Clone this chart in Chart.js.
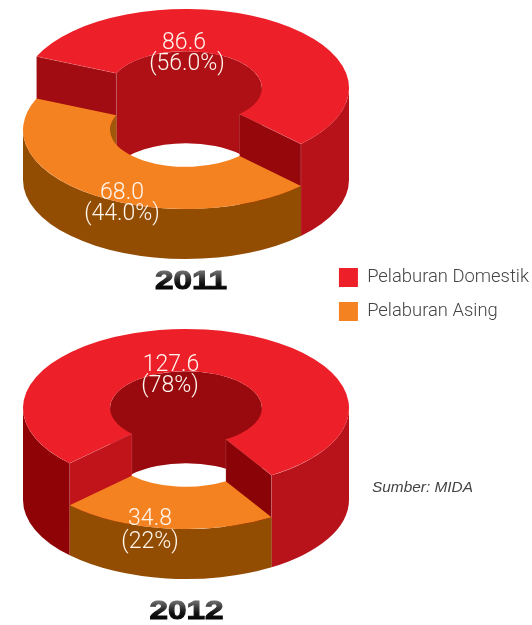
<!DOCTYPE html>
<html>
<head>
<meta charset="utf-8">
<script src="https://cdn.jsdelivr.net/npm/chart.js@4"></script>
<style>
html,body{margin:0;padding:0;background:#fff}
body{width:532px;height:625px;position:relative;overflow:hidden}
canvas{position:absolute;left:0;top:0}
#src{position:absolute;left:372px;top:478px;font:italic 15.4px "Liberation Sans",sans-serif;color:#444;white-space:nowrap}
</style>
</head>
<body>
<canvas id="c2011" width="532" height="625"></canvas>
<canvas id="c2012" width="532" height="625"></canvas>
<div id="src">Sumber: MIDA</div>
<script>
const categories = ['Pelaburan Domestik', 'Pelaburan Asing'];
const values2011 = [86.6, 68.0];
const values2012 = [127.6, 34.8];
const percent2011 = ['(56.0%)', '(44.0%)'];
const percent2012 = ['(78%)', '(22%)'];
const faceColors = ['#ED1F28', '#F58220'];

const LABEL_FONT = '300 23px Roboto, "Liberation Sans", sans-serif';

const views = {
  c2011: {
    year: '2011', values: values2011, percents: percent2011,
    rotation: 293.5, cx: 186, baseY: 180, rx: 163, ry: 79, heights: [92, 50],
    innerWall: ['#AE1015', '#A0590A'], startFace: ['#A00C12', '#934D03'], endFace: ['#95070B', '#934D03'],
    wallLeft: ['#B7121A', '#934D03'], wallRight: ['#B7121A', '#934D03'],
    labelPos: [[[184, 43], [187, 64]], [[122, 193], [122, 214]]],
    titlePos: [191, 282], legend: true
  },
  c2012: {
    year: '2012', values: values2012, percents: percent2012,
    rotation: 225.5, cx: 186, baseY: 500, rx: 163, ry: 79, heights: [92, 50],
    innerWall: ['#990A0E', '#934D03'], startFace: ['#C0131A', '#934D03'], endFace: ['#8A0306', '#934D03'],
    wallLeft: ['#8F0205', '#934D03'], wallRight: ['#B8131A', '#934D03'],
    labelPos: [[[171, 365], [170, 386]], [[150, 519], [150, 542]]],
    titlePos: [186.5, 612], legend: false
  }
};

function overlaps(a, b, p, q, cb) {
  const T = Math.PI * 2;
  for (let k = -2; k <= 3; k++) {
    const lo = Math.max(a, p + T * k), hi = Math.min(b, q + T * k);
    if (hi > lo) cb(lo, hi);
  }
}

const solid = {
  id: 'solid',
  beforeDatasetDraw(chart, args) {
    const v = chart.$view, ctx = chart.ctx;
    const arcs = chart.getDatasetMeta(args.index).data;
    const order = arcs.map((_, i) => i).sort((i, j) => v.heights[j] - v.heights[i]);
    order.forEach(i => {
      const arc = arcs[i];
      const a = arc.startAngle, b = arc.endAngle, R = arc.outerRadius, r = arc.innerRadius;
      const sx = v.rx / R, sy = v.ry / R;
      const topY = v.baseY - v.heights[i], botY = v.baseY;
      const px = (rad, t) => v.cx + rad * sx * Math.cos(t);
      const py = (rad, t, y) => y + rad * sy * Math.sin(t);
      const band = (rad, lo, hi, color) => {
        ctx.beginPath();
        ctx.ellipse(v.cx, topY, rad * sx, rad * sy, 0, lo, hi);
        ctx.ellipse(v.cx, botY, rad * sx, rad * sy, 0, hi, lo, true);
        ctx.closePath();
        ctx.fillStyle = color; ctx.fill();
      };
      const face = (t, color) => {
        ctx.beginPath();
        ctx.moveTo(px(r, t), py(r, t, topY));
        ctx.lineTo(px(R, t), py(R, t, topY));
        ctx.lineTo(px(R, t), py(R, t, botY));
        ctx.lineTo(px(r, t), py(r, t, botY));
        ctx.closePath();
        ctx.fillStyle = color; ctx.fill();
      };
      const edges = t => {
        ctx.beginPath();
        ctx.moveTo(px(r, t), py(r, t, botY));
        ctx.lineTo(px(r, t), py(r, t, topY));
        ctx.lineTo(px(R, t), py(R, t, topY));
        ctx.lineTo(px(R, t), py(R, t, botY));
        ctx.lineWidth = 0.6;
        ctx.strokeStyle = 'rgba(255,255,255,0.22)';
        ctx.stroke();
      };
      overlaps(a, b, Math.PI, Math.PI * 2, (lo, hi) => band(r, lo, hi, v.innerWall[i]));
      if (Math.cos(a) < 0) face(a, v.startFace[i]);
      if (Math.cos(b) > 0) face(b, v.endFace[i]);
      overlaps(a, b, 0, Math.PI, (lo, hi) => {
        const left = Math.cos((lo + hi) / 2) < 0;
        band(R, lo, hi, left ? v.wallLeft[i] : v.wallRight[i]);
      });
      ctx.save();
      ctx.translate(v.cx, topY);
      ctx.scale(sx, sy);
      ctx.translate(-arc.x, -arc.y);
      arc.draw(ctx, chart.chartArea);
      ctx.restore();
      if (Math.cos(a) < 0) edges(a);
      if (Math.cos(b) > 0) edges(b);
    });
    return false;
  },
  afterDatasetsDraw(chart) {
    const v = chart.$view, ctx = chart.ctx;
    ctx.save();
    ctx.textAlign = 'center';
    ctx.textBaseline = 'middle';
    ctx.fillStyle = '#FFF6EE';
    ctx.font = LABEL_FONT;
    v.values.forEach((val, i) => {
      ctx.fillText(val.toFixed(1), v.labelPos[i][0][0], v.labelPos[i][0][1]);
      ctx.fillText(v.percents[i], v.labelPos[i][1][0], v.labelPos[i][1][1]);
    });
    const [tx, ty] = v.titlePos;
    ctx.translate(tx, ty);
    ctx.scale(1.28, 1);
    const g = ctx.createLinearGradient(0, -10, 0, 10);
    g.addColorStop(0, '#666');
    g.addColorStop(0.55, '#111');
    g.addColorStop(1, '#000');
    ctx.font = 'bold 26px "Liberation Sans", sans-serif';
    ctx.fillStyle = g; ctx.strokeStyle = g; ctx.lineWidth = 1;
    ctx.fillText(v.year, 0, 0);
    ctx.strokeText(v.year, 0, 0);
    ctx.restore();
  }
};

Object.keys(views).forEach(id => {
  const v = views[id];
  new Chart(document.getElementById(id), {
    type: 'doughnut',
    data: {
      labels: categories,
      datasets: [{ data: v.values, backgroundColor: faceColors, borderWidth: 0 }]
    },
    options: {
      responsive: false,
      animation: false,
      cutout: '46.6%',
      rotation: v.rotation,
      layout: { padding: { bottom: 289, right: -7 } },
      plugins: {
        tooltip: { enabled: false },
        legend: {
          display: v.legend,
          position: 'right',
          align: 'end',
          labels: {
            boxWidth: 19, boxHeight: 19, padding: 15, color: '#444',
            font: { family: 'Roboto, "Liberation Sans", sans-serif', size: 18.4, weight: '300' }
          }
        }
      }
    },
    plugins: [{ id: 'bind', beforeInit(c) { c.$view = v; } }, solid]
  });
});
</script>
</body>
</html>
